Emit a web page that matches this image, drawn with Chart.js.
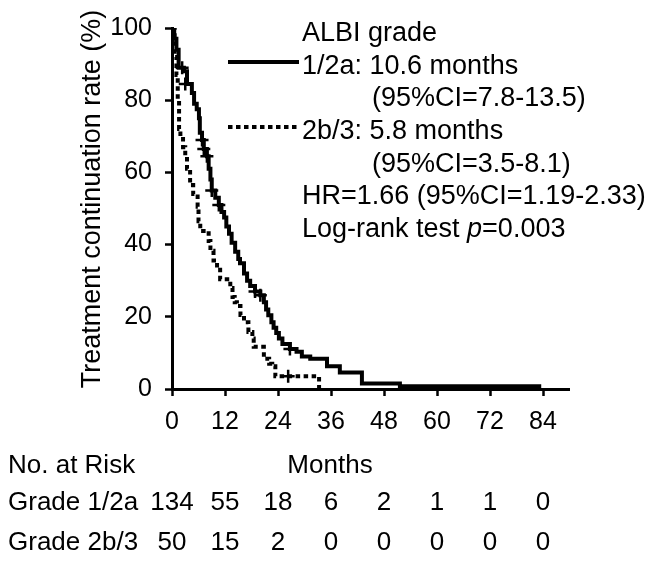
<!DOCTYPE html>
<html>
<head>
<meta charset="utf-8">
<script src="https://cdn.jsdelivr.net/npm/chart.js@4"></script>
<style>
  html, body { margin: 0; padding: 0; background: #fff; }
  #wrap { width: 657px; height: 562px; }
</style>
</head>
<body>
<div id="wrap"><canvas id="kmChart" width="657" height="562"></canvas></div>
<script>
// Kaplan-Meier curves - treatment continuation by ALBI grade
const g1Times = [0, 0.5, 1.0, 1.5, 2.7, 3.4, 4.5, 5.0, 5.6, 6.1, 6.3, 6.8, 7.2, 7.9, 8.3, 8.7, 9.0, 9.8, 10.6, 11.2, 11.8, 12.3, 12.9, 13.5, 14.3, 15.0, 15.4, 16.3, 17.0, 17.7, 18.8, 20.0, 20.8, 21.3, 21.8, 22.5, 23.0, 23.6, 24.2, 25.0, 26.7, 28.2, 29.4, 31.3, 35.1, 38.0, 43.0, 51.6, 83.6];
const g1Rates = [100, 97, 94, 89, 88, 84.5, 82, 79, 77.5, 75, 71, 69, 66.5, 64.5, 61, 58, 55, 53, 51, 49, 47.5, 45, 43, 40.5, 38, 36, 34.8, 32, 30, 28.5, 27, 26, 24, 22, 20.4, 18.5, 17, 15.5, 14, 12.5, 11.1, 10.3, 9, 8.4, 6.3, 4.6, 1.5, 0.75, 0.75];

const g2Times = [0, 0.6, 1.0, 1.3, 1.6, 1.9, 2.5, 3.0, 3.4, 4.1, 4.8, 5.8, 6.0, 6.4, 8.3, 8.7, 9.4, 10.2, 10.9, 13.2, 13.7, 14.2, 14.7, 15.5, 16.3, 17.3, 18.2, 18.5, 20.8, 22.0, 22.7, 23.4, 33.3];
const g2Rates = [100, 92, 87, 80, 72, 70, 67, 64.7, 61, 56.5, 54, 50.5, 46.5, 43.8, 41, 38.3, 35.6, 33, 30.4, 28, 25.5, 24, 23, 20.5, 18.5, 15.8, 14, 11.7, 8.4, 7, 6.3, 3.5, 0];

// censored observations (+)
const g1CensorTimes = [2.3, 3.0, 6.8, 7.2, 7.9, 9.0, 10.6, 18.8, 20.0, 26.7];
const g1CensorRates = [89, 84.5, 69, 66.5, 64.5, 55, 51, 27, 26, 11.1];
const g2CensorTimes = [26.3];
const g2CensorRates = [3.5];

// axes
const xTicks = [0, 12, 24, 36, 48, 60, 72, 84];
const yTicks = [0, 20, 40, 60, 80, 100];

// number at risk table
const riskMonths = [0, 12, 24, 36, 48, 60, 72, 84];
const riskG1 = [134, 55, 18, 6, 2, 1, 1, 0];
const riskG2 = [50, 15, 2, 0, 0, 0, 0, 0];

const FONT = 'Liberation Sans, Arial, Helvetica, sans-serif';
const toPoints = (xs, ys) => xs.map((x, i) => ({ x: x, y: ys[i] }));

// text, legend samples and the at-risk table
const annotations = {
  id: 'annotations',
  afterDraw(chart) {
    const ctx = chart.ctx;
    const xs = chart.scales.x;
    ctx.save();
    ctx.fillStyle = '#000';
    ctx.strokeStyle = '#000';
    ctx.textBaseline = 'alphabetic';

    // y axis title
    ctx.save();
    ctx.translate(100, 199);
    ctx.rotate(-Math.PI / 2);
    ctx.textAlign = 'center';
    ctx.font = '27px ' + FONT;
    ctx.fillText('Treatment continuation rate (%)', 0, 0);
    ctx.restore();

    // legend block
    ctx.font = '27px ' + FONT;
    ctx.textAlign = 'left';
    ctx.fillText('ALBI grade', 302, 41);
    ctx.fillText('1/2a: 10.6 months', 302, 74);
    ctx.fillText('(95%CI=7.8-13.5)', 372, 106);
    ctx.fillText('2b/3: 5.8 months', 302, 139);
    ctx.fillText('(95%CI=3.5-8.1)', 372, 172);
    ctx.fillText('HR=1.66 (95%CI=1.19-2.33)', 302, 204);
    let tx = 302;
    const part1 = 'Log-rank test ';
    ctx.fillText(part1, tx, 237);
    tx += ctx.measureText(part1).width;
    ctx.font = 'italic 27px ' + FONT;
    ctx.fillText('p', tx, 237);
    tx += ctx.measureText('p').width;
    ctx.font = '27px ' + FONT;
    ctx.fillText('=0.003', tx, 237);

    ctx.lineWidth = 4;
    ctx.beginPath();
    ctx.moveTo(228, 62);
    ctx.lineTo(299, 62);
    ctx.stroke();
    ctx.setLineDash([4.5, 3.5]);
    ctx.beginPath();
    ctx.moveTo(228, 127);
    ctx.lineTo(299, 127);
    ctx.stroke();
    ctx.setLineDash([]);

    // at-risk table
    ctx.font = '26px ' + FONT;
    ctx.fillText('No. at Risk', 8, 473);
    ctx.fillText('Grade 1/2a', 8, 510);
    ctx.fillText('Grade 2b/3', 8, 550);
    ctx.textAlign = 'center';
    ctx.fillText('Months', 330, 473);
    riskMonths.forEach((m, i) => {
      const px = xs.getPixelForValue(m);
      ctx.fillText(String(riskG1[i]), px, 510);
      ctx.fillText(String(riskG2[i]), px, 550);
    });
    ctx.restore();
  }
};

const ctxKm = document.getElementById('kmChart').getContext('2d');
new Chart(ctxKm, {
  type: 'line',
  data: {
    datasets: [
      {
        label: '1/2a',
        data: toPoints(g1Times, g1Rates),
        stepped: true,
        borderColor: '#000',
        borderWidth: 4,
        pointRadius: 0,
        fill: false
      },
      {
        label: '2b/3',
        data: toPoints(g2Times, g2Rates),
        stepped: true,
        borderColor: '#000',
        borderWidth: 4,
        borderDash: [4.5, 3.5],
        pointRadius: 0,
        fill: false
      },
      {
        label: '1/2a censored',
        data: toPoints(g1CensorTimes, g1CensorRates),
        showLine: false,
        pointStyle: 'cross',
        pointRadius: 6.5,
        pointBorderWidth: 2.5,
        pointBorderColor: '#000'
      },
      {
        label: '2b/3 censored',
        data: toPoints(g2CensorTimes, g2CensorRates),
        showLine: false,
        pointStyle: 'cross',
        pointRadius: 6.5,
        pointBorderWidth: 2.5,
        pointBorderColor: '#000'
      }
    ]
  },
  options: {
    responsive: false,
    animation: false,
    layout: { padding: { left: 0, top: 19, right: 87.5, bottom: 0 } },
    plugins: { legend: { display: false }, tooltip: { enabled: false } },
    scales: {
      x: {
        type: 'linear',
        min: 0,
        max: 90,
        afterBuildTicks: s => { s.ticks = xTicks.map(v => ({ value: v })); },
        afterFit: s => { s.height = 173; },
        grid: { display: true, drawOnChartArea: false, tickLength: 7, tickWidth: 2.5, tickColor: '#000' },
        border: { display: true, color: '#000', width: 3 },
        ticks: { color: '#000', padding: 11, maxRotation: 0, autoSkip: false, font: { family: FONT, size: 25 } }
      },
      y: {
        min: 0,
        max: 100,
        afterBuildTicks: s => { s.ticks = yTicks.map(v => ({ value: v })); },
        afterFit: s => { s.width = 172; },
        grid: { display: true, drawOnChartArea: false, tickLength: 7, tickWidth: 2.5, tickColor: '#000' },
        border: { display: true, color: '#000', width: 3 },
        ticks: { color: '#000', padding: 13, font: { family: FONT, size: 25 } }
      }
    }
  },
  plugins: [annotations]
});
</script>
</body>
</html>
